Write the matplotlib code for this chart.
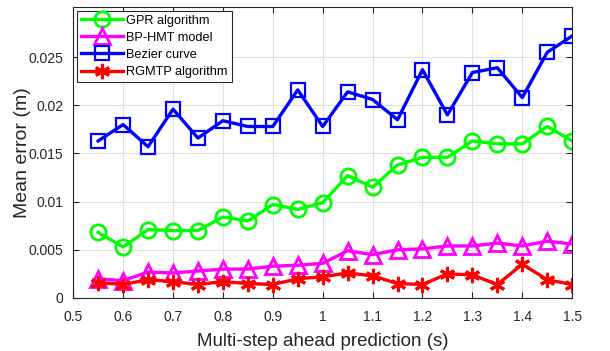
import numpy as np
import matplotlib
matplotlib.use("Agg")
import matplotlib.pyplot as plt

plt.rcParams['font.family'] = ['Liberation Sans', 'DejaVu Sans']

steps = [0.55, 0.6, 0.65, 0.7, 0.75, 0.8, 0.85, 0.9, 0.95, 1.0,
         1.05, 1.1, 1.15, 1.2, 1.25, 1.3, 1.35, 1.4, 1.45, 1.5]

gpr = [0.0068, 0.0053, 0.0071, 0.0070, 0.0070, 0.0084, 0.0080, 0.0097, 0.0092, 0.0099,
       0.0127, 0.0115, 0.0138, 0.0146, 0.0146, 0.0163, 0.0160, 0.0160, 0.0178, 0.0163]
bp_hmt = [0.0020, 0.0018, 0.0027, 0.0026, 0.0028, 0.0030, 0.0030, 0.0033, 0.0034, 0.0036,
          0.0049, 0.0045, 0.0050, 0.0051, 0.0054, 0.0054, 0.0057, 0.0054, 0.0059, 0.0056]
bezier = [0.0163, 0.0180, 0.0157, 0.0196, 0.0166, 0.0184, 0.0178, 0.0178, 0.0216, 0.0178,
          0.0214, 0.0206, 0.0185, 0.0237, 0.0190, 0.0234, 0.0239, 0.0208, 0.0255, 0.0272]
rgmtp = [0.0016, 0.0014, 0.0019, 0.0017, 0.0014, 0.0017, 0.0015, 0.0014, 0.0020, 0.0022,
         0.0026, 0.0023, 0.0015, 0.0014, 0.0025, 0.0024, 0.0014, 0.0035, 0.0019, 0.0014]

xticks = [0.5, 0.6, 0.7, 0.8, 0.9, 1, 1.1, 1.2, 1.3, 1.4, 1.5]
yticks = [0, 0.005, 0.01, 0.015, 0.02, 0.025]

fig = plt.figure(figsize=(6.1, 3.51), dpi=100)
ax = fig.add_axes([0.12, 0.151, 0.818, 0.829])

lw = 2.4
ms = 11
ax.plot(steps, gpr, color='#00ff00', marker='o', ms=ms, mfc='none', mew=2, lw=lw, label='GPR algorithm')
ax.plot(steps, bp_hmt, color='#ff00ff', marker='^', ms=ms, mfc='none', mew=2, lw=lw, label='BP-HMT model')
ax.plot(steps, bezier, color='#0000ff', marker='s', ms=ms - 1, mfc='none', mew=1.6, lw=lw, label='Bezier curve')
ax.plot(steps, rgmtp, color='#ff0000', marker=(6, 2, 0), ms=ms, mew=2.2, lw=lw, label='RGMTP algorithm')

ax.set_xlim(0.5, 1.5)
ax.set_ylim(0, 0.0302)
ax.set_xticks(xticks)
ax.set_xticklabels(['0.5', '0.6', '0.7', '0.8', '0.9', '1', '1.1', '1.2', '1.3', '1.4', '1.5'])
ax.set_yticks(yticks)
ax.set_yticklabels(['0', '0.005', '0.01', '0.015', '0.02', '0.025'])
ax.tick_params(direction='in', top=True, right=True, labelsize=10, colors='#262626', length=4)
ax.tick_params(axis='x', pad=9)
ax.tick_params(axis='y', pad=7)
ax.grid(True, color='#e0e0e0', lw=0.8)
ax.set_axisbelow(True)
for s in ax.spines.values():
    s.set_color('#262626')
    s.set_linewidth(0.8)

ax.set_xlabel('Multi-step ahead prediction (s)', fontsize=13.5, color='#262626', labelpad=6)
ax.set_ylabel('Mean error (m)', fontsize=14, color='#262626')
# keep the label just left of the tick labels
ax.yaxis.set_label_coords(-0.085, 0.5)

leg = ax.legend(loc='upper left', fontsize=9.2, handlelength=3.3, borderaxespad=0.3,
                fancybox=False, edgecolor='#262626', framealpha=1,
                borderpad=0.3, labelspacing=0.4, handletextpad=0.25)
leg.get_frame().set_linewidth(0.8)

fig.savefig('out.png', dpi=100)
